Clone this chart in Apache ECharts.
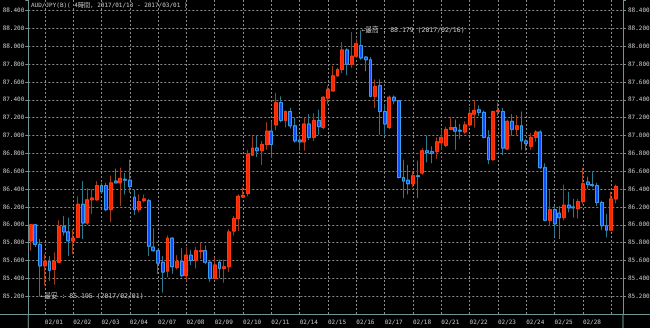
<!DOCTYPE html>
<html><head><meta charset="utf-8">
<script src="https://cdn.jsdelivr.net/npm/echarts@6/dist/echarts.min.js"></script>
<style>html,body{margin:0;padding:0;background:#000}#c{width:650px;height:328px}</style>
</head><body><div id="c"></div>
<script>
const titleText = 'AUD/JPY(B)( 4時間, 2017/01/13 - 2017/03/01 )';
const dayLabels = ['01/31','02/01','02/02','02/03','02/04','02/07','02/08','02/09','02/10','02/11','02/14','02/15','02/16','02/17','02/18','02/21','02/22','02/23','02/24','02/25','02/28','03/01'];
const candlesPerDay = [3,6,6,6,6,6,6,6,6,6,6,6,6,6,6,6,6,6,6,6,6,2];
const opens = [85.82,86.00,85.78,85.54,85.59,85.50,85.58,85.98,85.92,85.82,
  85.86,86.23,86.02,86.28,86.28,86.44,86.44,86.17,86.49,86.47,
  86.51,86.50,86.31,86.17,86.27,86.27,85.75,85.71,85.58,85.48,
  85.85,85.52,85.59,85.43,85.66,85.60,85.70,85.71,85.58,85.40,
  85.58,85.51,85.53,85.93,86.07,86.31,86.35,86.78,86.86,86.83,
  86.90,87.05,87.12,87.37,87.17,87.27,87.11,86.95,86.93,87.13,
  86.98,87.17,87.09,87.42,87.50,87.67,87.74,87.96,87.80,87.89,
  88.01,87.88,87.85,87.44,87.56,87.27,87.09,87.43,87.39,86.53,
  86.50,86.46,86.55,86.58,86.83,86.82,86.82,86.92,86.89,87.07,
  87.09,87.06,87.04,87.12,87.24,87.29,87.26,86.98,86.73,87.27,
  87.27,86.85,87.16,87.07,87.11,86.94,86.88,86.98,87.04,86.64,
  86.05,86.17,86.13,86.08,86.22,86.20,86.18,86.26,86.48,86.45,
  86.44,86.25,85.99,85.94,86.29];
const closes = [86.00,85.78,85.54,85.59,85.49,85.59,85.98,85.92,85.82,85.85,
  86.23,86.02,86.28,86.30,86.44,86.37,86.17,86.47,86.47,86.52,
  86.50,86.43,86.17,86.26,86.29,85.76,85.71,85.57,85.47,85.85,
  85.53,85.59,85.43,85.66,85.60,85.71,85.71,85.58,85.40,85.55,
  85.51,85.53,85.92,86.07,86.32,86.33,86.79,86.86,86.83,86.90,
  87.05,86.90,87.37,87.17,87.27,87.11,86.94,86.93,87.13,86.98,
  87.17,87.10,87.43,87.52,87.67,87.74,87.96,87.80,87.89,88.03,
  87.87,87.85,87.44,87.55,87.27,87.13,87.43,87.39,86.53,86.49,
  86.46,86.55,86.54,86.83,86.81,86.80,86.93,86.98,87.07,87.09,
  87.05,87.05,87.12,87.25,87.28,87.26,86.98,86.73,87.27,87.28,
  86.86,87.16,87.07,87.11,86.94,86.91,86.98,87.04,86.64,86.05,
  86.17,86.01,86.08,86.22,86.19,86.19,86.26,86.46,86.45,86.44,
  86.25,85.99,85.94,86.29,86.43];
const lows = [85.71,85.75,85.195,85.32,85.37,85.33,85.57,85.88,85.65,85.67,
  85.85,85.84,86.00,86.12,86.27,86.35,86.15,86.03,86.47,86.21,
  86.34,86.36,86.11,86.14,86.25,85.65,85.70,85.45,85.24,85.41,
  85.45,85.50,85.41,85.37,85.55,85.51,85.62,85.56,85.36,85.39,
  85.40,85.35,85.47,85.88,85.93,86.30,86.32,86.77,86.76,86.67,
  86.84,86.75,87.06,87.15,87.09,87.08,86.92,86.83,86.83,86.95,
  86.94,87.01,87.07,87.35,87.50,87.66,87.70,87.68,87.76,87.87,
  87.85,87.72,87.43,87.31,87.01,87.01,87.07,87.35,86.52,86.30,
  86.34,86.42,86.30,86.56,86.70,86.69,86.74,86.84,86.87,87.06,
  86.84,86.96,87.02,87.10,87.09,87.22,86.97,86.68,86.72,87.22,
  86.78,86.84,87.00,87.01,86.84,86.83,86.84,86.93,86.63,86.04,
  85.99,85.87,85.84,86.05,86.14,86.08,86.07,86.23,86.40,86.42,
  86.21,85.94,85.86,85.94,86.24];
const highs = [86.01,86.01,85.84,85.67,85.65,85.69,86.05,86.10,86.08,85.95,
  86.32,86.49,86.41,86.40,86.49,86.47,86.47,86.55,86.63,86.64,
  86.58,86.73,86.39,86.34,86.34,86.29,85.96,85.72,85.65,85.88,
  85.86,85.66,85.74,85.75,85.72,85.75,85.80,85.77,85.60,85.63,
  85.61,85.61,85.95,86.10,86.34,86.42,86.84,86.99,87.00,86.94,
  87.15,87.16,87.48,87.44,87.28,87.31,87.20,87.00,87.20,87.24,
  87.25,87.29,87.44,87.56,87.78,87.76,88.05,87.98,88.16,88.08,
  88.179,87.89,87.88,87.63,87.63,87.35,87.45,87.45,87.40,86.73,
  86.67,86.60,86.72,86.86,87.00,86.88,86.98,87.07,87.10,87.21,
  87.18,87.13,87.16,87.32,87.40,87.34,87.28,87.06,87.28,87.37,
  87.31,87.18,87.24,87.23,87.27,86.96,87.03,87.06,87.06,86.69,
  86.39,86.21,86.21,86.45,86.37,86.29,86.29,86.64,86.54,86.59,
  86.47,86.27,86.12,86.37,86.45];
const highNote = { index: 70, value: 88.179, label: '最高', date: '2017/02/16' };
const lowNote = { index: 2, value: 85.195, label: '最安', date: '2017/02/01' };
const yMin = 85.0, yMax = 88.52, yStep = 0.2;

const categories = [];
dayLabels.forEach((d, k) => { for (let j = 0; j < candlesPerDay[k]; j++) categories.push(d); });
categories.push('');
const firstDayIdx = candlesPerDay[0];
const dayLen = 6;

const wickData = opens.map((o, i) => [o, closes[i], lows[i], highs[i]]);
const bodyData = opens.map((o, i) => [o, closes[i], Math.min(o, closes[i]), Math.max(o, closes[i])]);
wickData.push('-'); bodyData.push('-');

const mono = "'DejaVu Sans Mono', 'Noto Sans CJK JP', monospace";
const txtColor = '#c4c4c4';
const axisColor = '#6f9494';
const gridColor = '#8a8a8a';
const G = { left: 28.3, right: 27, top: 0, bottom: 14 };
const W = 650, H = 328;

const chart = echarts.init(document.getElementById('c'), null, { renderer: 'canvas' });
const isDayStart = (idx) => idx >= firstDayIdx && (idx - firstDayIdx) % dayLen === 0;

chart.setOption({
  backgroundColor: '#000',
  animation: false,
  title: { text: titleText, left: 31, top: 2, padding: 0,
    textStyle: { color: txtColor, fontSize: 6, fontWeight: 'normal', fontFamily: mono } },
  grid: { left: G.left, right: G.right, top: G.top, bottom: G.bottom, containLabel: false, outerBoundsMode: 'none' },
  xAxis: {
    type: 'category', data: categories, boundaryGap: true,
    axisLine: { show: true, lineStyle: { color: axisColor, width: 1 } },
    axisTick: { show: false },
    axisLabel: { show: true, color: txtColor, fontSize: 6, fontFamily: mono, align: 'left', margin: 5,
      interval: (idx) => isDayStart(idx) && idx < categories.length - 8 },
    splitLine: { show: true, alignWithLabel: true, interval: (idx) => isDayStart(idx),
      lineStyle: { color: gridColor, type: [2, 2], width: 1 } }
  },
  yAxis: [
    { type: 'value', position: 'left', min: yMin, max: yMax, interval: yStep, scale: true,
      axisLine: { show: true, lineStyle: { color: axisColor, width: 1 } },
      axisTick: { show: true, length: 3, lineStyle: { color: axisColor } },
      axisLabel: { color: txtColor, fontSize: 6, fontFamily: mono, margin: 4,
        formatter: v => (v > yMin + 0.1 && v < yMax - 0.1) ? v.toFixed(3) : '' },
      splitLine: { show: true, showMinLine: false, showMaxLine: false,
        lineStyle: { color: gridColor, type: [2, 2], width: 1 } } },
    { type: 'value', position: 'right', min: yMin, max: yMax, interval: yStep, scale: true,
      axisLine: { show: true, lineStyle: { color: axisColor, width: 1 } },
      axisTick: { show: true, length: 3, lineStyle: { color: axisColor } },
      axisLabel: { color: txtColor, fontSize: 6, fontFamily: mono, margin: 5,
        formatter: v => (v > yMin + 0.1 && v < yMax - 0.1) ? v.toFixed(3) : '' },
      splitLine: { show: false } }
  ],
  series: [
    { type: 'candlestick', name: 'wick', data: wickData, barWidth: '72%',
      itemStyle: { color: '#a03c18', color0: '#2a7a90', borderColor: '#a03c18', borderColor0: '#2a7a90', borderWidth: 1 },
      markPoint: {
        symbol: 'circle', symbolSize: 1, itemStyle: { color: 'rgba(0,0,0,0)' },
        label: { show: true, position: 'right', distance: 0, color: txtColor, fontSize: 6.5, fontFamily: mono },
        data: [highNote, lowNote].map(n => ({
          coord: [n.index, n.value],
          label: { formatter: '←' + n.label + ' : ' + n.value.toFixed(3) + ' (' + n.date + ')' }
        }))
      } },
    { type: 'candlestick', name: 'body', data: bodyData, barWidth: '72%',
      itemStyle: { color: '#ff2400', color0: '#1448ff', borderColor: '#ff3a10', borderColor0: '#38a0e8', borderWidth: 1 } }
  ],
  graphic: [
    { type: 'line', shape: { x1: 0, y1: H - G.bottom + 0.5, x2: W, y2: H - G.bottom + 0.5 }, style: { stroke: axisColor, lineWidth: 1 }, silent: true },
    { type: 'line', shape: { x1: G.left, y1: H - G.bottom, x2: G.left, y2: H }, style: { stroke: axisColor, lineWidth: 1 }, silent: true },
    { type: 'line', shape: { x1: W - G.right, y1: H - G.bottom, x2: W - G.right, y2: H }, style: { stroke: axisColor, lineWidth: 1 }, silent: true }
  ]
});
</script></body></html>
